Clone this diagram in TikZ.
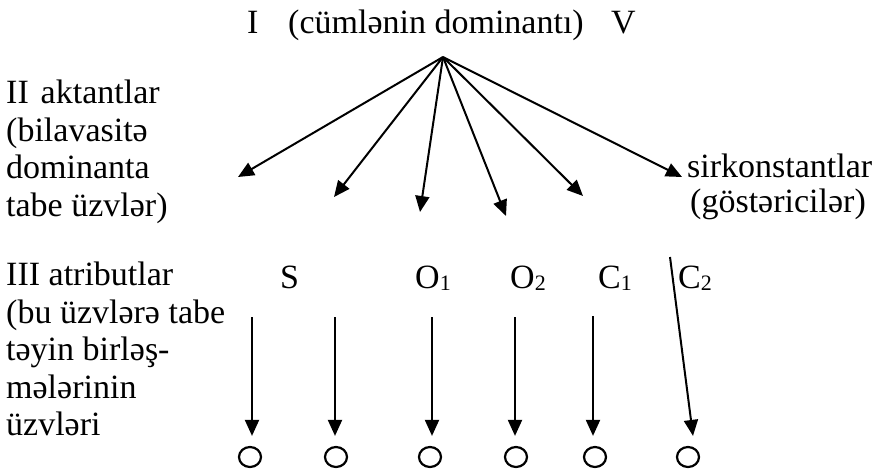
\documentclass[tikz,border=0pt]{standalone}
\usepackage{fontspec}
\setmainfont{Liberation Serif}
\usetikzlibrary{arrows.meta,shapes.geometric}
\newcommand{\sbx}[1]{\raisebox{-2pt}{\fontsize{22}{22}\selectfont #1}}
\begin{document}
\begin{tikzpicture}[x=1pt,y=-1pt,
  txt/.style={inner sep=0pt,font=\fontsize{34}{37.5}\selectfont},
  lbl/.style={txt,anchor=base west},
  blk/.style={txt,anchor=north west,align=left},
  arr/.style={line width=2pt,-{Triangle[width=14pt,length=16pt]}},
  ring/.style={draw,ellipse,line width=2.2pt,minimum width=22pt,minimum height=20pt,inner sep=0pt}]
\useasboundingbox[fill=white] (0,0) rectangle (882,471);
% top line
\node[lbl] (roman1) at (247,33) {I};
\node[lbl] (dom) at (288,33) {(cümlənin dominantı)};
\node[lbl] (roman5) at (611,33) {V};
% left blocks
\node[blk] (act) at (6,80) {II\hspace{0.35em}aktantlar\\(bilavasitə\\dominanta\\tabe üzvlər)};
\node[blk] (atr) at (6,262) {III atributlar\\(bu üzvlərə tabe\\təyin birləş-\\mələrinin\\üzvləri};
% right label
\node[lbl] (sirk) at (687,177) {sirkonstantlar};
\node[lbl] (gost) at (690,212) {(göstəricilər)};
% row III labels
\node[lbl] (S) at (280,288) {S};
\node[lbl] (O1) at (415,288) {O\sbx{1}};
\node[lbl] (O2) at (510,288) {O\sbx{2}};
\node[lbl] (C1) at (598,288) {C\sbx{1}};
\node[lbl] (C2) at (678,288) {C\sbx{2}};
% fan
\coordinate (apex) at (443,57);
\coordinate (t1) at (238,177);
\coordinate (t2) at (334,197);
\coordinate (t3) at (420,212);
\coordinate (t4) at (506,216);
\coordinate (t5) at (583,196);
\coordinate (t6) at (682,177);
\foreach \t in {t1,t2,t3,t4,t5,t6} \draw[arr] (apex) -- (\t);
% circles
\node[ring] (c1) at (250,457) {};
\node[ring] (c2) at (336,457) {};
\node[ring] (c3) at (430,457) {};
\node[ring] (c4) at (516,457) {};
\node[ring] (c5) at (595,457) {};
\node[ring] (c6) at (688,457) {};
% vertical arrows
\coordinate (s1) at (252,317);
\coordinate (s2) at (335,317);
\coordinate (s3) at (432,317);
\coordinate (s4) at (515,317);
\coordinate (s5) at (593,316);
\coordinate (s6) at (670,257);
\draw[arr,shorten >=10pt] (s1) -- (s1 |- c1.north);
\draw[arr,shorten >=10pt] (s2) -- (s2 |- c2.north);
\draw[arr,shorten >=10pt] (s3) -- (s3 |- c3.north);
\draw[arr,shorten >=10pt] (s4) -- (s4 |- c4.north);
\draw[arr,shorten >=10pt] (s5) -- (s5 |- c5.north);
\draw[arr] (s6) -- ([xshift=5pt,yshift=10pt]c6.north);
\end{tikzpicture}
\end{document}
